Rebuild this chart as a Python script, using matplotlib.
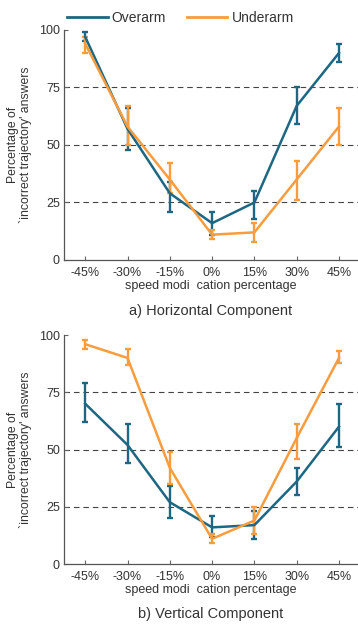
import numpy as np
import matplotlib
matplotlib.use("Agg")
import matplotlib.pyplot as plt
from matplotlib.lines import Line2D

plt.rcParams['font.family'] = ['Liberation Sans', 'DejaVu Sans']

# -----------------------------------------------------------------------------
# Data
# -----------------------------------------------------------------------------
speed_labels = ['-45%', '-30%', '-15%', '0%', '15%', '30%', '45%']

# a) horizontal component
horiz_over = [97, 57, 29, 16, 25, 67, 90]
horiz_over_lo = [95, 48, 21, 11, 18, 59, 86]
horiz_over_hi = [99, 66, 34, 21, 30, 75, 94]
horiz_under = [94, 58, 35, 11, 12, 35, 58]
horiz_under_lo = [90, 50, 29, 9, 8, 26, 50]
horiz_under_hi = [97, 67, 42, 13, 16, 43, 66]

# b) vertical component
vert_over = [70, 52, 27, 16, 17, 36, 60]
vert_over_lo = [62, 44, 20, 12, 11, 30, 51]
vert_over_hi = [79, 61, 34, 21, 23, 42, 70]
vert_under = [96, 90, 42, 11, 19, 55, 90]
vert_under_lo = [94, 87, 35, 9, 13, 46, 88]
vert_under_hi = [98, 94, 49, 13, 25, 61, 93]

OVER_C = '#1d6782'
UNDER_C = '#f89c3e'
TXT_C = '#333333'


def _draw_panel(ax, over, over_lo, over_hi, under, under_lo, under_hi, title):
    x = np.arange(len(speed_labels))
    for yv in (25, 50, 75):
        ax.axhline(yv, color='#444444', lw=0.8, dashes=(5, 3.5), zorder=1)
    for vals, lo, hi, c in ((over, over_lo, over_hi, OVER_C),
                            (under, under_lo, under_hi, UNDER_C)):
        vals = np.asarray(vals, float)
        yerr = [vals - np.asarray(lo), np.asarray(hi) - vals]
        ax.errorbar(x, vals, yerr=yerr, color=c, lw=1.8, elinewidth=1.7,
                    capsize=2, capthick=1.7, zorder=3)
    ax.set_xlim(-0.5, 6.45)
    ax.set_ylim(0, 100)
    ax.set_xticks(x)
    ax.set_xticklabels(speed_labels)
    ax.set_yticks([0, 25, 50, 75, 100])
    ax.tick_params(direction='in', length=3, width=0.8, colors='#666666',
                   labelcolor=TXT_C, labelsize=9)
    ax.tick_params(axis='x', pad=5)
    ax.tick_params(axis='y', pad=3)
    for s in ('top', 'right'):
        ax.spines[s].set_visible(False)
    for s in ('left', 'bottom'):
        ax.spines[s].set_color('#555555')
        ax.spines[s].set_linewidth(0.9)
    ax.set_xlabel('speed modi  cation percentage', fontsize=9, color=TXT_C,
                  labelpad=1)
    ax.set_ylabel("Percentage of\n`incorrect trajectory' answers", fontsize=8.8,
                  color=TXT_C, labelpad=5, linespacing=0.95)
    ax.text(0.5, -0.22, title, transform=ax.transAxes, ha='center',
            va='center', fontsize=10.5, color=TXT_C)


fig = plt.figure(figsize=(3.58, 6.26), dpi=100)
ax1 = fig.add_axes([0.179, 0.5847, 0.821, 0.3674])
ax2 = fig.add_axes([0.179, 0.0990, 0.821, 0.3658])

_draw_panel(ax1, horiz_over, horiz_over_lo, horiz_over_hi,
            horiz_under, horiz_under_lo, horiz_under_hi, 'a) Horizontal Component')
_draw_panel(ax2, vert_over, vert_over_lo, vert_over_hi,
            vert_under, vert_under_lo, vert_under_hi, 'b) Vertical Component')

handles = [Line2D([], [], color=OVER_C, lw=2.0),
           Line2D([], [], color=UNDER_C, lw=2.0)]
fig.legend(handles, ['Overarm', 'Underarm'], loc='center left',
           bbox_to_anchor=(0.188, 0.972), ncol=2, frameon=False, fontsize=10,
           handlelength=2.9, handletextpad=0.3, columnspacing=1.5,
           labelcolor=TXT_C, borderaxespad=0, borderpad=0)

fig.savefig('out.png', dpi=100)
